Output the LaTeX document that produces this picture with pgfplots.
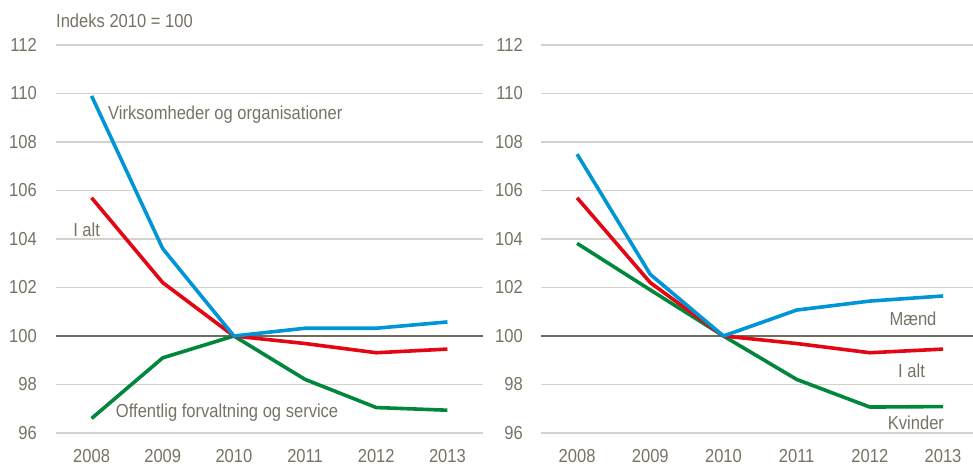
\documentclass[border=0pt]{standalone}
\usepackage{pgfplots}
\pgfplotsset{compat=1.18}
\usepackage{fontspec}
\setmainfont[FakeStretch=0.88]{Liberation Sans}
\definecolor{cblue}{RGB}{0,150,214}
\definecolor{cred}{RGB}{227,6,19}
\definecolor{cgreen}{RGB}{0,135,60}
\definecolor{ctext}{RGB}{118,114,100}
\definecolor{cgrid}{RGB}{212,210,202}
\definecolor{czero}{RGB}{110,107,95}
\newcommand{\lblfont}{\fontsize{18.8}{22}\selectfont}
\pgfplotsset{
  mystyle/.style={
    scale only axis,
    height=388pt,
    xmin=-0.5, ymin=96, ymax=112,
    ytick={96,98,...,112},
    xtick={0,...,5},
    xticklabels={2008,2009,2010,2011,2012,2013},
    axis line style={draw=none},
    major tick style={draw=none},
    ymajorgrids,
    grid style={cgrid, line width=1.2pt},
    tick label style={font=\lblfont, text=ctext, inner sep=0pt},
    /pgf/number format/assume math mode=true,
    xticklabel shift=16.5pt,
    clip=false,
    every axis plot/.append style={line width=3.6pt, line join=round},
  }
}
\begin{document}
\begin{tikzpicture}[x=1pt,y=1pt]
\useasboundingbox (0,0) rectangle (973,466);
\begin{axis}[mystyle, width=427pt, xmax=5.5, at={(56pt,33pt)}, anchor=south west, yticklabel shift=19pt]
\addplot[czero, line width=1.8pt] coordinates {(-0.5,100) (5.5,100)};
\addplot[cgreen] coordinates {(0,96.6) (1,99.1) (2,100) (3,98.21) (4,97.05) (5,96.94)};
\addplot[cred] coordinates {(0,105.7) (1,102.2) (2,100) (3,99.69) (4,99.31) (5,99.46)};
\addplot[cblue] coordinates {(0,109.9) (1,103.6) (2,100) (3,100.32) (4,100.32) (5,100.58)};
\node[anchor=west, inner sep=0pt, text=ctext, font=\lblfont] at (axis cs:0.23,109.11) {Virksomheder og organisationer};
\node[inner sep=0pt, text=ctext, font=\lblfont] at (axis cs:-0.07,104.37) {I alt};
\node[anchor=west, inner sep=0pt, text=ctext, font=\lblfont] at (axis cs:0.34,96.84) {Offentlig forvaltning og service};
\node[anchor=south west, inner sep=0pt, text=ctext, font=\lblfont] at (axis cs:-0.5,112.7) {Indeks 2010 = 100};
\end{axis}
\begin{axis}[mystyle, width=432.5pt, xmax=5.41, at={(540.5pt,33pt)}, anchor=south west, yticklabel shift=17.5pt]
\addplot[czero, line width=1.8pt] coordinates {(-0.5,100) (5.41,100)};
\addplot[cgreen] coordinates {(0,103.82) (1,101.9) (2,100) (3,98.21) (4,97.07) (5,97.09)};
\addplot[cred] coordinates {(0,105.7) (1,102.2) (2,100) (3,99.69) (4,99.31) (5,99.46)};
\addplot[cblue] coordinates {(0,107.5) (1,102.54) (2,100) (3,101.07) (4,101.44) (5,101.65)};
\node[inner sep=0pt, text=ctext, font=\lblfont] at (axis cs:4.59,100.72) {Mænd};
\node[inner sep=0pt, text=ctext, font=\lblfont] at (axis cs:4.57,98.56) {I alt};
\node[inner sep=0pt, text=ctext, font=\lblfont] at (axis cs:4.63,96.43) {Kvinder};
\end{axis}
\end{tikzpicture}
\end{document}
